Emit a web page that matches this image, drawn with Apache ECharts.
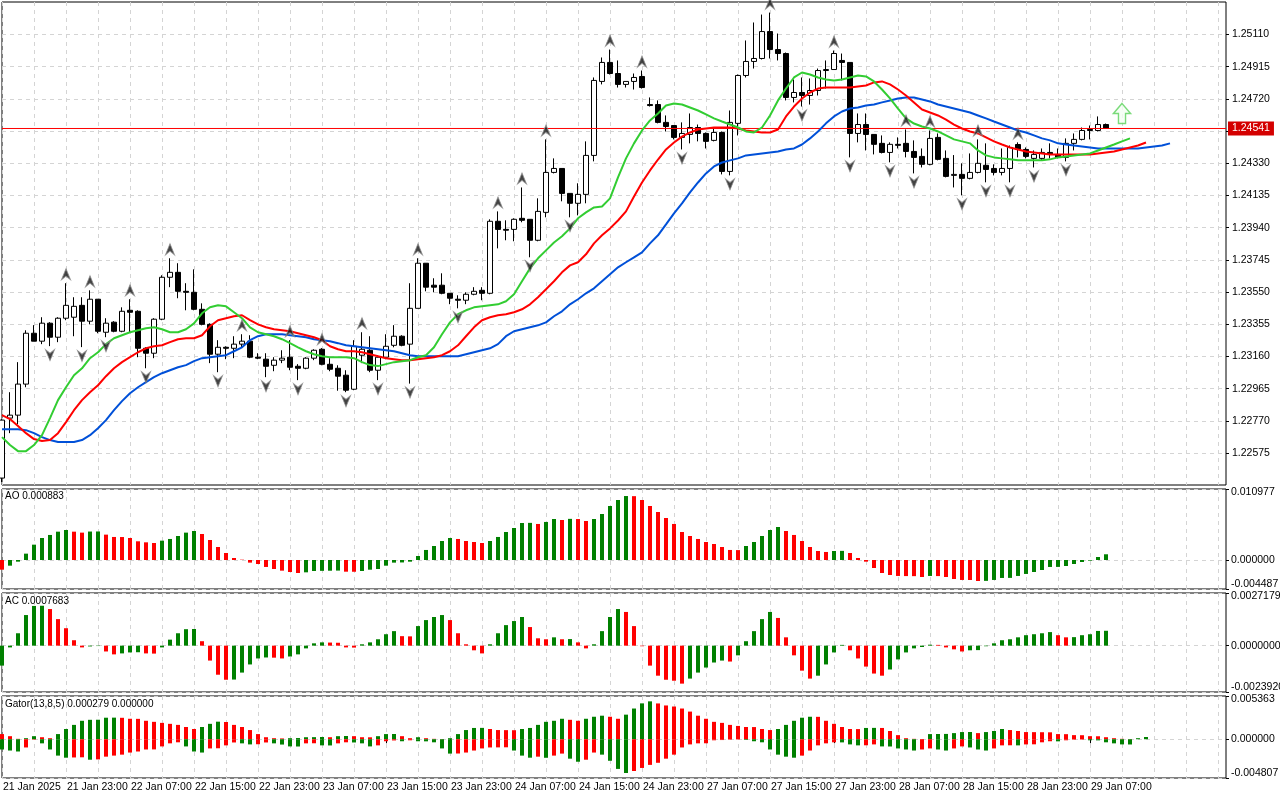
<!DOCTYPE html>
<html>
<head>
<meta charset="utf-8">
<title>H1 Alligator / AO / AC / Gator</title>
<script src="https://cdn.jsdelivr.net/npm/echarts@6/dist/echarts.min.js"></script>
<style>
html, body { margin: 0; padding: 0; background: #fff; }
#chart { width: 1280px; height: 800px; }
</style>
</head>
<body>
<div id="chart"></div>
<script>
// ---------- data ----------
var timeTicks = ['21 Jan 2025', '21 Jan 23:00', '22 Jan 07:00', '22 Jan 15:00', '22 Jan 23:00', '23 Jan 07:00',
	'23 Jan 15:00', '23 Jan 23:00', '24 Jan 07:00', '24 Jan 15:00', '24 Jan 23:00', '27 Jan 07:00',
	'27 Jan 15:00', '27 Jan 23:00', '28 Jan 07:00', '28 Jan 15:00', '28 Jan 23:00', '29 Jan 07:00'];

// [open, close, low, high]
var candles = [
	[1.22424, 1.22775, 1.22400, 1.22780], [1.22787, 1.22805, 1.22696, 1.22944], [1.22805, 1.22993, 1.22750, 1.23126],
	[1.22993, 1.23301, 1.22974, 1.23319], [1.23301, 1.23253, 1.23253, 1.23350], [1.23253, 1.23362, 1.23235, 1.23398],
	[1.23362, 1.23277, 1.23223, 1.23368], [1.23277, 1.23392, 1.23247, 1.23398], [1.23392, 1.23470, 1.23380, 1.23604],
	[1.23398, 1.23464, 1.23283, 1.23519], [1.23470, 1.23374, 1.23217, 1.23519], [1.23374, 1.23507, 1.23355, 1.23561],
	[1.23507, 1.23313, 1.23301, 1.23507], [1.23307, 1.23362, 1.23277, 1.23392], [1.23368, 1.23313, 1.23307, 1.23374],
	[1.23313, 1.23434, 1.23307, 1.23458], [1.23440, 1.23428, 1.23307, 1.23507], [1.23434, 1.23210, 1.23156, 1.23440],
	[1.23210, 1.23180, 1.23089, 1.23216], [1.23180, 1.23386, 1.23150, 1.23392], [1.23386, 1.23640, 1.23380, 1.23652],
	[1.23640, 1.23670, 1.23580, 1.23755], [1.23670, 1.23555, 1.23513, 1.23725], [1.23555, 1.23549, 1.23440, 1.23604],
	[1.23549, 1.23446, 1.23440, 1.23688], [1.23446, 1.23355, 1.23349, 1.23482], [1.23355, 1.23174, 1.23120, 1.23361],
	[1.23174, 1.23216, 1.23065, 1.23259], [1.23216, 1.23210, 1.23144, 1.23222], [1.23210, 1.23235, 1.23150, 1.23283],
	[1.23235, 1.23253, 1.23216, 1.23295], [1.23253, 1.23156, 1.23150, 1.23289], [1.23156, 1.23150, 1.23144, 1.23180],
	[1.23144, 1.23101, 1.23035, 1.23180], [1.23107, 1.23138, 1.23071, 1.23156], [1.23138, 1.23150, 1.23120, 1.23198],
	[1.23156, 1.23095, 1.23077, 1.23259], [1.23101, 1.23089, 1.23017, 1.23114], [1.23089, 1.23150, 1.23083, 1.23156],
	[1.23150, 1.23198, 1.23138, 1.23204], [1.23204, 1.23113, 1.23107, 1.23211], [1.23113, 1.23083, 1.23071, 1.23150],
	[1.23089, 1.23041, 1.22953, 1.23107], [1.23047, 1.22956, 1.22944, 1.23077], [1.22962, 1.23222, 1.22956, 1.23259],
	[1.23168, 1.23204, 1.23120, 1.23307], [1.23198, 1.23077, 1.23065, 1.23283], [1.23077, 1.23156, 1.23017, 1.23168],
	[1.23156, 1.23222, 1.23144, 1.23295], [1.23228, 1.23283, 1.23216, 1.23350], [1.23283, 1.23228, 1.23222, 1.23289],
	[1.23235, 1.23452, 1.22996, 1.23604], [1.23452, 1.23725, 1.23452, 1.23755], [1.23725, 1.23580, 1.23555, 1.23725],
	[1.23592, 1.23580, 1.23549, 1.23634], [1.23592, 1.23543, 1.23537, 1.23664], [1.23543, 1.23513, 1.23477, 1.23543],
	[1.23507, 1.23501, 1.23452, 1.23531], [1.23501, 1.23537, 1.23477, 1.23549], [1.23537, 1.23555, 1.23531, 1.23580],
	[1.23561, 1.23543, 1.23501, 1.23580], [1.23543, 1.23979, 1.23537, 1.23991], [1.23979, 1.23930, 1.23815, 1.24039],
	[1.23930, 1.23925, 1.23864, 1.23985], [1.23930, 1.23991, 1.23858, 1.23997], [1.23997, 1.23985, 1.23973, 1.24184],
	[1.23991, 1.23864, 1.23761, 1.23991], [1.23864, 1.24039, 1.23858, 1.24118], [1.24033, 1.24275, 1.24003, 1.24475],
	[1.24275, 1.24299, 1.24269, 1.24360], [1.24299, 1.24148, 1.24100, 1.24299], [1.24148, 1.24088, 1.24003, 1.24148],
	[1.24088, 1.24142, 1.24015, 1.24209], [1.24142, 1.24378, 1.24088, 1.24463], [1.24378, 1.24832, 1.24342, 1.24850],
	[1.24826, 1.24941, 1.24808, 1.24971], [1.24941, 1.24874, 1.24868, 1.25019], [1.24874, 1.24808, 1.24789, 1.24953],
	[1.24808, 1.24826, 1.24789, 1.24826], [1.24826, 1.24850, 1.24777, 1.24874], [1.24856, 1.24789, 1.24783, 1.24892],
	[1.24686, 1.24680, 1.24674, 1.24729], [1.24686, 1.24578, 1.24572, 1.24711], [1.24578, 1.24553, 1.24523, 1.24620],
	[1.24559, 1.24487, 1.24475, 1.24559], [1.24487, 1.24511, 1.24414, 1.24578], [1.24505, 1.24547, 1.24451, 1.24632],
	[1.24547, 1.24511, 1.24463, 1.24565], [1.24511, 1.24463, 1.24420, 1.24517], [1.24469, 1.24517, 1.24463, 1.24547],
	[1.24517, 1.24281, 1.24263, 1.24523], [1.24281, 1.24578, 1.24257, 1.24650], [1.24572, 1.24862, 1.24499, 1.24868],
	[1.24862, 1.24947, 1.24850, 1.25074], [1.24947, 1.24965, 1.24904, 1.25183], [1.24965, 1.25128, 1.24959, 1.25231],
	[1.25128, 1.25019, 1.24965, 1.25243], [1.25019, 1.24995, 1.24953, 1.25116], [1.24995, 1.24729, 1.24711, 1.25001],
	[1.24729, 1.24759, 1.24699, 1.24838], [1.24759, 1.24741, 1.24674, 1.24850], [1.24741, 1.24771, 1.24686, 1.24844],
	[1.24771, 1.24892, 1.24741, 1.24904], [1.24892, 1.24898, 1.24783, 1.24953], [1.24898, 1.24995, 1.24898, 1.25013],
	[1.24953, 1.24941, 1.24832, 1.24995], [1.24941, 1.24511, 1.24366, 1.24941], [1.24511, 1.24565, 1.24457, 1.24632],
	[1.24565, 1.24505, 1.24408, 1.24632], [1.24505, 1.24445, 1.24384, 1.24505], [1.24451, 1.24396, 1.24390, 1.24499],
	[1.24396, 1.24445, 1.24336, 1.24457], [1.24445, 1.24439, 1.24420, 1.24487], [1.24451, 1.24402, 1.24366, 1.24535],
	[1.24402, 1.24366, 1.24269, 1.24469], [1.24372, 1.24324, 1.24305, 1.24420], [1.24324, 1.24481, 1.24318, 1.24529],
	[1.24487, 1.24354, 1.24348, 1.24511], [1.24360, 1.24251, 1.24245, 1.24408], [1.24257, 1.24263, 1.24184, 1.24380],
	[1.24263, 1.24239, 1.24136, 1.24330], [1.24239, 1.24275, 1.24233, 1.24390], [1.24275, 1.24330, 1.24269, 1.24475],
	[1.24318, 1.24293, 1.24215, 1.24451], [1.24299, 1.24275, 1.24257, 1.24324], [1.24275, 1.24299, 1.24257, 1.24420],
	[1.24299, 1.24426, 1.24215, 1.24438], [1.24444, 1.24414, 1.24366, 1.24457], [1.24414, 1.24372, 1.24360, 1.24426],
	[1.24360, 1.24384, 1.24305, 1.24408], [1.24360, 1.24396, 1.24348, 1.24420], [1.24396, 1.24384, 1.24360, 1.24451],
	[1.24384, 1.24366, 1.24360, 1.24420], [1.24366, 1.24451, 1.24342, 1.24481], [1.24451, 1.24475, 1.24408, 1.24511],
	[1.24475, 1.24529, 1.24469, 1.24547], [1.24535, 1.24529, 1.24475, 1.24559], [1.24529, 1.24565, 1.24523, 1.24614],
	[1.24565, 1.24541, 1.24541, 1.24571]
];

// Alligator lines (already shifted forward: jaw 8, teeth 5, lips 3 bars)
var jaw = [
	1.22720, 1.22720, 1.22720, 1.22714, 1.22696, 1.22672, 1.22654, 1.22642, 1.22642, 1.22642,
	1.22654, 1.22684, 1.22726, 1.22775, 1.22835, 1.22890, 1.22938, 1.22974, 1.23005, 1.23035,
	1.23059, 1.23077, 1.23095, 1.23108, 1.23132, 1.23150, 1.23156, 1.23162, 1.23168, 1.23192,
	1.23216, 1.23259, 1.23283, 1.23295, 1.23295, 1.23295, 1.23289, 1.23283, 1.23277, 1.23265,
	1.23259, 1.23253, 1.23241, 1.23228, 1.23222, 1.23216, 1.23210, 1.23204, 1.23198, 1.23192,
	1.23180, 1.23168, 1.23162, 1.23162, 1.23162, 1.23162, 1.23162, 1.23162, 1.23174, 1.23186,
	1.23198, 1.23210, 1.23235, 1.23283, 1.23313, 1.23325, 1.23337, 1.23349, 1.23367, 1.23404,
	1.23434, 1.23476, 1.23507, 1.23543, 1.23573, 1.23616, 1.23658, 1.23700, 1.23731, 1.23761,
	1.23791, 1.23845, 1.23894, 1.23960, 1.24027, 1.24087, 1.24154, 1.24214, 1.24269, 1.24311,
	1.24335, 1.24348, 1.24360, 1.24378, 1.24384, 1.24390, 1.24396, 1.24402, 1.24414, 1.24420,
	1.24444, 1.24481, 1.24523, 1.24572, 1.24614, 1.24644, 1.24662, 1.24668, 1.24680, 1.24686,
	1.24699, 1.24711, 1.24723, 1.24729, 1.24729, 1.24717, 1.24705, 1.24686, 1.24674, 1.24662,
	1.24650, 1.24638, 1.24620, 1.24602, 1.24583, 1.24565, 1.24547, 1.24529, 1.24517, 1.24499,
	1.24481, 1.24469, 1.24451, 1.24444, 1.24438, 1.24432, 1.24426, 1.24420, 1.24420, 1.24420,
	1.24420, 1.24420, 1.24420, 1.24426, 1.24432, 1.24438, 1.24451
];
var teeth = [
	1.22805, 1.22781, 1.22739, 1.22696, 1.22660, 1.22648, 1.22654, 1.22696, 1.22763, 1.22835,
	1.22896, 1.22944, 1.22986, 1.23041, 1.23089, 1.23126, 1.23156, 1.23186, 1.23210, 1.23222,
	1.23228, 1.23247, 1.23265, 1.23271, 1.23271, 1.23289, 1.23343, 1.23380, 1.23392, 1.23404,
	1.23410, 1.23380, 1.23355, 1.23337, 1.23325, 1.23319, 1.23313, 1.23301, 1.23289, 1.23277,
	1.23259, 1.23222, 1.23204, 1.23192, 1.23192, 1.23186, 1.23174, 1.23162, 1.23150, 1.23144,
	1.23138, 1.23138, 1.23144, 1.23150, 1.23156, 1.23168, 1.23192, 1.23228, 1.23283, 1.23337,
	1.23380, 1.23398, 1.23410, 1.23416, 1.23428, 1.23446, 1.23476, 1.23519, 1.23567, 1.23616,
	1.23670, 1.23712, 1.23731, 1.23779, 1.23845, 1.23894, 1.23936, 1.23984, 1.24039, 1.24129,
	1.24214, 1.24287, 1.24353, 1.24414, 1.24456, 1.24492, 1.24517, 1.24535, 1.24541, 1.24547,
	1.24547, 1.24547, 1.24541, 1.24529, 1.24523, 1.24517, 1.24517, 1.24535, 1.24614, 1.24674,
	1.24723, 1.24759, 1.24783, 1.24789, 1.24789, 1.24789, 1.24789, 1.24795, 1.24801, 1.24820,
	1.24826, 1.24808, 1.24777, 1.24741, 1.24699, 1.24656, 1.24638, 1.24620, 1.24595, 1.24565,
	1.24541, 1.24523, 1.24511, 1.24487, 1.24463, 1.24444, 1.24426, 1.24414, 1.24402, 1.24396,
	1.24390, 1.24384, 1.24384, 1.24384, 1.24384, 1.24384, 1.24384, 1.24390, 1.24396, 1.24402,
	1.24414, 1.24426, 1.24438, 1.24456
];
var lips = [
	1.22672, 1.22624, 1.22587, 1.22587, 1.22624, 1.22684, 1.22787, 1.22896, 1.22974, 1.23047,
	1.23089, 1.23150, 1.23186, 1.23235, 1.23271, 1.23289, 1.23307, 1.23319, 1.23331, 1.23337,
	1.23325, 1.23307, 1.23307, 1.23325, 1.23361, 1.23422, 1.23458, 1.23470, 1.23464, 1.23428,
	1.23392, 1.23337, 1.23307, 1.23295, 1.23283, 1.23265, 1.23241, 1.23216, 1.23192, 1.23174,
	1.23162, 1.23156, 1.23156, 1.23156, 1.23150, 1.23126, 1.23108, 1.23102, 1.23114, 1.23126,
	1.23132, 1.23138, 1.23156, 1.23168, 1.23216, 1.23295, 1.23367, 1.23416, 1.23440, 1.23458,
	1.23464, 1.23470, 1.23476, 1.23495, 1.23537, 1.23616, 1.23694, 1.23755, 1.23803, 1.23851,
	1.23888, 1.23936, 1.23997, 1.24033, 1.24063, 1.24069, 1.24118, 1.24245, 1.24360, 1.24451,
	1.24529, 1.24590, 1.24632, 1.24680, 1.24692, 1.24686, 1.24668, 1.24650, 1.24626, 1.24602,
	1.24583, 1.24565, 1.24547, 1.24523, 1.24517, 1.24547, 1.24620, 1.24711, 1.24783, 1.24850,
	1.24880, 1.24868, 1.24850, 1.24838, 1.24832, 1.24838, 1.24850, 1.24862, 1.24856, 1.24826,
	1.24777, 1.24723, 1.24662, 1.24602, 1.24571, 1.24553, 1.24541, 1.24523, 1.24499, 1.24475,
	1.24463, 1.24451, 1.24408, 1.24378, 1.24366, 1.24360, 1.24354, 1.24348, 1.24348, 1.24348,
	1.24348, 1.24354, 1.24366, 1.24372, 1.24378, 1.24384, 1.24390, 1.24408, 1.24426, 1.24444,
	1.24463, 1.24481
];

// bars carrying a fractal
var fractalUp = [8, 11, 16, 21, 30, 36, 40, 45, 52, 62, 65, 68, 76, 80, 96, 104, 113, 116, 122, 127];
var fractalDown = [6, 10, 13, 18, 27, 33, 37, 43, 47, 51, 57, 66, 71, 85, 91, 100, 106, 111, 114, 120, 123, 126, 129, 133];

var signalBar = 140;
var signalPrice = 1.24632;
var lastPrice = 1.24541;

var priceTicks = [1.22575, 1.22770, 1.22965, 1.23160, 1.23355, 1.23550, 1.23745, 1.23940,
	1.24135, 1.24330, 1.24525, 1.24720, 1.24915, 1.25110];
var hiddenPriceTick = '1.24525';
var priceRange = [1.22382, 1.25307];

var ao = [
	-0.00150, -0.00088, -0.00026, 0.00098, 0.00237, 0.00340, 0.00387, 0.00438, 0.00464, 0.00438,
	0.00423, 0.00440, 0.00441, 0.00392, 0.00356, 0.00355, 0.00340, 0.00289, 0.00273, 0.00263,
	0.00299, 0.00325, 0.00371, 0.00423, 0.00448, 0.00402, 0.00309, 0.00201, 0.00108, 0.00031,
	0.00005, -0.00041, -0.00062, -0.00108, -0.00139, -0.00165, -0.00186, -0.00201, -0.00191, -0.00170,
	-0.00168, -0.00166, -0.00164, -0.00181, -0.00182, -0.00170, -0.00150, -0.00139, -0.00088, -0.00041,
	-0.00038, -0.00026, 0.00062, 0.00155, 0.00216, 0.00294, 0.00340, 0.00325, 0.00294, 0.00278,
	0.00263, 0.00294, 0.00356, 0.00433, 0.00495, 0.00572, 0.00574, 0.00557, 0.00588, 0.00634,
	0.00618, 0.00636, 0.00633, 0.00603, 0.00634, 0.00711, 0.00835, 0.00928, 0.00989, 0.00987,
	0.00928, 0.00835, 0.00742, 0.00649, 0.00557, 0.00433, 0.00371, 0.00325, 0.00278, 0.00247,
	0.00201, 0.00155, 0.00153, 0.00216, 0.00278, 0.00371, 0.00464, 0.00510, 0.00448, 0.00387,
	0.00294, 0.00201, 0.00139, 0.00124, 0.00139, 0.00141, 0.00108, 0.00031, -0.00026, -0.00124,
	-0.00201, -0.00232, -0.00247, -0.00249, -0.00250, -0.00263, -0.00247, -0.00249, -0.00263, -0.00294,
	-0.00309, -0.00310, -0.00325, -0.00323, -0.00309, -0.00278, -0.00277, -0.00247, -0.00216, -0.00186,
	-0.00155, -0.00108, -0.00107, -0.00093, -0.00062, -0.00031, -0.00010, 0.00046, 0.000883
];
var aoRange = [-0.004487, 0.010977];

var ac = [
	-0.00103, -0.00009, 0.00064, 0.00158, 0.00205, 0.00206, 0.00189, 0.00137, 0.00090, 0.00028,
	-0.00009, -0.00004, -0.00002, -0.00030, -0.00045, -0.00040, -0.00035, -0.00034, -0.00040, -0.00041,
	-0.00009, 0.00031, 0.00064, 0.00085, 0.00086, 0.00023, -0.00077, -0.00150, -0.00176, -0.00175,
	-0.00139, -0.00097, -0.00066, -0.00061, -0.00062, -0.00066, -0.00056, -0.00045, -0.00014, 0.00012,
	0.00017, 0.00016, 0.00015, -0.00009, -0.00010, 0.00007, 0.00017, 0.00033, 0.00059, 0.00075,
	0.00049, 0.00048, 0.00101, 0.00132, 0.00148, 0.00158, 0.00132, 0.00064, 0.00007, -0.00024,
	-0.00040, 0.00007, 0.00064, 0.00106, 0.00127, 0.00148, 0.00096, 0.00038, 0.00033, 0.00043,
	0.00033, 0.00034, 0.00017, -0.00014, 0.00007, 0.00075, 0.00148, 0.00189, 0.00174, 0.00101,
	-0.00003, -0.00103, -0.00155, -0.00176, -0.00181, -0.00196, -0.00170, -0.00139, -0.00113, -0.00087,
	-0.00077, -0.00082, -0.00050, 0.00023, 0.00075, 0.00137, 0.00174, 0.00143, 0.00043, -0.00050,
	-0.00129, -0.00170, -0.00155, -0.00097, -0.00035, 0.00004, -0.00024, -0.00066, -0.00108, -0.00144,
	-0.00155, -0.00123, -0.00071, -0.00035, -0.00014, -0.00007, 0.00005, 0.00004, -0.00009, -0.00019,
	-0.00030, -0.00024, -0.00023, -0.00003, 0.00012, 0.00028, 0.00033, 0.00043, 0.00054, 0.00059,
	0.00064, 0.00070, 0.00054, 0.00043, 0.00044, 0.00054, 0.00059, 0.00076, 0.0007683
];
var acRange = [-0.0023920, 0.0027179];

var gatorUp = [
	0.00064, 0.00038, 0.00005, 0.00013, 0.00038, 0.00025, 0.00013, 0.00064, 0.00127, 0.00178,
	0.00229, 0.00241, 0.00242, 0.00267, 0.00268, 0.00266, 0.00254, 0.00253, 0.00229, 0.00216,
	0.00203, 0.00191, 0.00178, 0.00152, 0.00127, 0.00152, 0.00191, 0.00218, 0.00214, 0.00178,
	0.00152, 0.00114, 0.00064, 0.00025, 0.00013, 0.00010, 0.00013, 0.00015, 0.00025, 0.00026,
	0.00028, 0.00025, 0.00038, 0.00040, 0.00038, 0.00025, 0.00024, 0.00038, 0.00064, 0.00065,
	0.00038, 0.00013, 0.00025, 0.00013, 0.00005, 0.00003, 0.00013, 0.00064, 0.00114, 0.00140,
	0.00141, 0.00127, 0.00114, 0.00113, 0.00112, 0.00127, 0.00140, 0.00178, 0.00216, 0.00229,
	0.00254, 0.00241, 0.00229, 0.00254, 0.00279, 0.00292, 0.00279, 0.00254, 0.00305, 0.00381,
	0.00445, 0.00470, 0.00444, 0.00419, 0.00406, 0.00381, 0.00343, 0.00292, 0.00254, 0.00216,
	0.00203, 0.00178, 0.00165, 0.00152, 0.00151, 0.00127, 0.00114, 0.00127, 0.00178, 0.00229,
	0.00267, 0.00279, 0.00278, 0.00229, 0.00191, 0.00152, 0.00127, 0.00126, 0.00140, 0.00141,
	0.00140, 0.00102, 0.00051, 0.00013, 0.00005, 0.00003, 0.00064, 0.00065, 0.00066, 0.00076,
	0.00089, 0.00090, 0.00076, 0.00089, 0.00102, 0.00127, 0.00114, 0.00102, 0.00089, 0.00088,
	0.00087, 0.00086, 0.00064, 0.00063, 0.00051, 0.00050, 0.00038, 0.00037, 0.00025, 0.00013,
	0.00005, 0.00003, 0.00013, 0.000279
];
var gatorDown = [
	-0.00127, -0.00140, -0.00152, -0.00102, -0.00005, -0.00051, -0.00127, -0.00203, -0.00229, -0.00226,
	-0.00224, -0.00254, -0.00250, -0.00216, -0.00203, -0.00191, -0.00165, -0.00152, -0.00127, -0.00126,
	-0.00089, -0.00051, -0.00038, -0.00089, -0.00152, -0.00165, -0.00114, -0.00112, -0.00076, -0.00040,
	-0.00051, -0.00064, -0.00062, -0.00040, -0.00051, -0.00066, -0.00089, -0.00090, -0.00051, -0.00050,
	-0.00076, -0.00077, -0.00051, -0.00038, -0.00040, -0.00051, -0.00089, -0.00076, -0.00025, -0.00015,
	-0.00025, -0.00013, -0.00025, -0.00026, -0.00038, -0.00114, -0.00178, -0.00177, -0.00165, -0.00140,
	-0.00114, -0.00102, -0.00101, -0.00100, -0.00140, -0.00203, -0.00229, -0.00216, -0.00230, -0.00203,
	-0.00178, -0.00241, -0.00279, -0.00254, -0.00165, -0.00191, -0.00267, -0.00368, -0.00419, -0.00394,
	-0.00356, -0.00318, -0.00292, -0.00241, -0.00191, -0.00102, -0.00064, -0.00051, -0.00050, -0.00013,
	-0.00010, -0.00005, -0.00003, -0.00008, -0.00025, -0.00038, -0.00127, -0.00191, -0.00216, -0.00229,
	-0.00203, -0.00140, -0.00076, -0.00051, -0.00038, -0.00039, -0.00064, -0.00076, -0.00075, -0.00064,
	-0.00089, -0.00090, -0.00114, -0.00127, -0.00140, -0.00127, -0.00114, -0.00127, -0.00140, -0.00114,
	-0.00089, -0.00102, -0.00127, -0.00140, -0.00114, -0.00076, -0.00075, -0.00076, -0.00064, -0.00063,
	-0.00038, -0.00025, -0.00026, -0.00013, -0.00005, -0.00004, -0.00013, -0.00014, -0.00038, -0.00051,
	-0.00064, -0.00065, 0, 0
];
var gatorRange = [-0.004807, 0.005363];

// ---------- chart ----------
var SLOTS = 154; // visible bar slots, incl. the empty space on the right
var GREEN = '#008000', RED = '#ff0000';
var FONT = '"Liberation Sans", Arial, sans-serif';
var GRID_LINE = { color: '#d4d4d4', type: [4, 4], width: 1 };

var slots = [];
for (var i = 0; i < SLOTS; i++) slots.push(i);

function colorBars(values, firstColor, byMagnitude) {
	return values.map(function (v, i) {
		var c = firstColor;
		if (i > 0) {
			var prev = values[i - 1];
			c = (byMagnitude ? Math.abs(v) > Math.abs(prev) : v > prev) ? GREEN : RED;
		}
		return { value: v, itemStyle: { color: c } };
	});
}

function barPoints(bars, pick) {
	return bars.map(function (b) {
		return [b, candles[b][pick]];
	});
}

function isTimeTick(i) {
	return i % 8 === 0 && i / 8 < timeTicks.length;
}

var panes = [
	{ top: 2, height: 483 },
	{ top: 489, height: 100 },
	{ top: 593, height: 99 },
	{ top: 696, height: 82 }
];

function makeGrid(p) {
	return {
		left: 2, right: 54, top: p.top, height: p.height,
		show: true, borderColor: '#000', borderWidth: 1,
		outerBoundsMode: 'none', containLabel: false
	};
}

function makeXAxis(idx, last) {
	return {
		type: 'category', gridIndex: idx, data: slots, boundaryGap: false,
		axisLine: { show: false },
		axisTick: { show: last, length: 4, lineStyle: { color: '#000' }, interval: isTimeTick },
		axisLabel: {
			show: last, color: '#000', fontFamily: FONT, fontSize: 10.5, align: 'left',
			margin: 4, padding: [0, 0, 0, 1], interval: isTimeTick,
			formatter: function (v, i) { return timeTicks[i / 8] || ''; }
		},
		splitLine: { show: true, lineStyle: GRID_LINE, interval: function (i) { return i % 4 === 0; } }
	};
}

function makeIndicatorAxis(idx, range, digits) {
	var marks = [range[0], 0, range[1]];
	return {
		type: 'value', gridIndex: idx, position: 'right', min: range[0], max: range[1],
		axisLine: { show: false },
		axisTick: { show: true, length: 3, customValues: marks, lineStyle: { color: '#000' } },
		axisLabel: {
			customValues: marks, color: '#000', fontFamily: FONT, fontSize: 10.5, margin: 5,
			formatter: function (v) {
				var s = v.toFixed(digits);
				if (Math.abs(v - range[1]) < 1e-9) return '{t|' + s + '}';
				if (Math.abs(v - range[0]) < 1e-9) return '{b|' + s + '}';
				return s;
			},
			rich: { t: { padding: [7, 0, 0, 0] }, b: { padding: [0, 0, 9, 0] } }
		},
		splitLine: { show: true, lineStyle: GRID_LINE }
	};
}

var upArrow = 'path://M5,0 L10,12 L5,8 L0,12 Z';
var downArrow = 'path://M0,0 L5,4 L10,0 L5,12 Z';
var hollowUp = 'path://M6,0 L12,7 L8.5,7 L8.5,14 L3.5,14 L3.5,7 L0,7 Z';

var option = {
	animation: false,
	backgroundColor: '#fff',
	textStyle: { fontFamily: FONT },
	title: [
		{ text: 'AO ' + ao[ao.length - 1].toFixed(6), left: 5, top: 491 },
		{ text: 'AC ' + ac[ac.length - 1].toFixed(7), left: 5, top: 596 },
		{ text: 'Gator(13,8,5) ' + gatorUp[gatorUp.length - 1].toFixed(6) + ' ' + Math.abs(gatorDown[gatorDown.length - 1]).toFixed(6), left: 5, top: 699 }
	].map(function (t) {
		t.padding = 0;
		t.textStyle = { fontSize: 10, fontWeight: 'normal', color: '#000', fontFamily: FONT };
		return t;
	}),
	grid: panes.map(makeGrid),
	xAxis: [makeXAxis(0, false), makeXAxis(1, false), makeXAxis(2, false), makeXAxis(3, true)],
	yAxis: [
		{
			type: 'value', gridIndex: 0, position: 'right', min: priceRange[0], max: priceRange[1],
			axisLine: { show: false },
			axisTick: { show: true, length: 3, customValues: priceTicks, lineStyle: { color: '#000' } },
			axisLabel: {
				customValues: priceTicks, color: '#000', fontFamily: FONT, fontSize: 10.5, margin: 6,
				formatter: function (v) {
					var s = v.toFixed(5);
					return s === hiddenPriceTick ? '' : s;
				}
			},
			splitLine: { show: true, lineStyle: GRID_LINE }
		},
		makeIndicatorAxis(1, aoRange, 6),
		makeIndicatorAxis(2, acRange, 7),
		makeIndicatorAxis(3, gatorRange, 6)
	],
	series: [
		{
			name: 'price', type: 'candlestick', xAxisIndex: 0, yAxisIndex: 0, barWidth: 5, z: 2,
			data: candles,
			itemStyle: { color: '#fff', color0: '#000', borderColor: '#000', borderColor0: '#000', borderWidth: 1 }
		},
		{
			// current bid line across the whole pane, with its price tag on the axis
			name: 'bid', type: 'line', z: 3, showSymbol: false, silent: true,
			data: [[0, lastPrice], [SLOTS - 1, lastPrice]],
			lineStyle: { color: '#ff0000', width: 1 },
			endLabel: {
				show: true, distance: 2, color: '#fff', backgroundColor: '#d40000',
				padding: [2, 4, 1, 4], fontFamily: FONT, fontSize: 10.5,
				formatter: function () { return lastPrice.toFixed(5); }
			}
		},
		{ name: 'jaw', type: 'line', data: jaw, showSymbol: false, z: 3, lineStyle: { color: '#0050d8', width: 2 } },
		{ name: 'teeth', type: 'line', data: teeth, showSymbol: false, z: 3, lineStyle: { color: '#ff0000', width: 2 } },
		{ name: 'lips', type: 'line', data: lips, showSymbol: false, z: 3, lineStyle: { color: '#32cd32', width: 2 } },
		{
			name: 'fractal up', type: 'scatter', data: barPoints(fractalUp, 3), z: 4,
			symbol: upArrow, symbolSize: [9, 11], symbolOffset: [0, -9],
			itemStyle: { color: '#141414', borderColor: '#8a8a8a', borderWidth: 1 }
		},
		{
			name: 'fractal down', type: 'scatter', data: barPoints(fractalDown, 2), z: 4,
			symbol: downArrow, symbolSize: [9, 11], symbolOffset: [0, 9],
			itemStyle: { color: '#141414', borderColor: '#8a8a8a', borderWidth: 1 }
		},
		{
			name: 'signal', type: 'scatter', data: [[signalBar, signalPrice]], z: 4,
			symbol: hollowUp, symbolSize: [17, 20],
			itemStyle: { color: '#f4fff4', borderColor: '#5ad25a', borderWidth: 1.5 }
		},
		{ name: 'AO', type: 'bar', xAxisIndex: 1, yAxisIndex: 1, barWidth: 4, data: colorBars(ao, RED, false) },
		{ name: 'AC', type: 'bar', xAxisIndex: 2, yAxisIndex: 2, barWidth: 4, data: colorBars(ac, GREEN, false) },
		{ name: 'Gator up', type: 'bar', xAxisIndex: 3, yAxisIndex: 3, barWidth: 4, barGap: '-100%', data: colorBars(gatorUp, RED, false) },
		{ name: 'Gator down', type: 'bar', xAxisIndex: 3, yAxisIndex: 3, barWidth: 4, barGap: '-100%', data: colorBars(gatorDown, GREEN, true) }
	]
};

var chart = echarts.init(document.getElementById('chart'), null, { renderer: 'canvas' });
chart.setOption(option);
</script>
</body>
</html>
